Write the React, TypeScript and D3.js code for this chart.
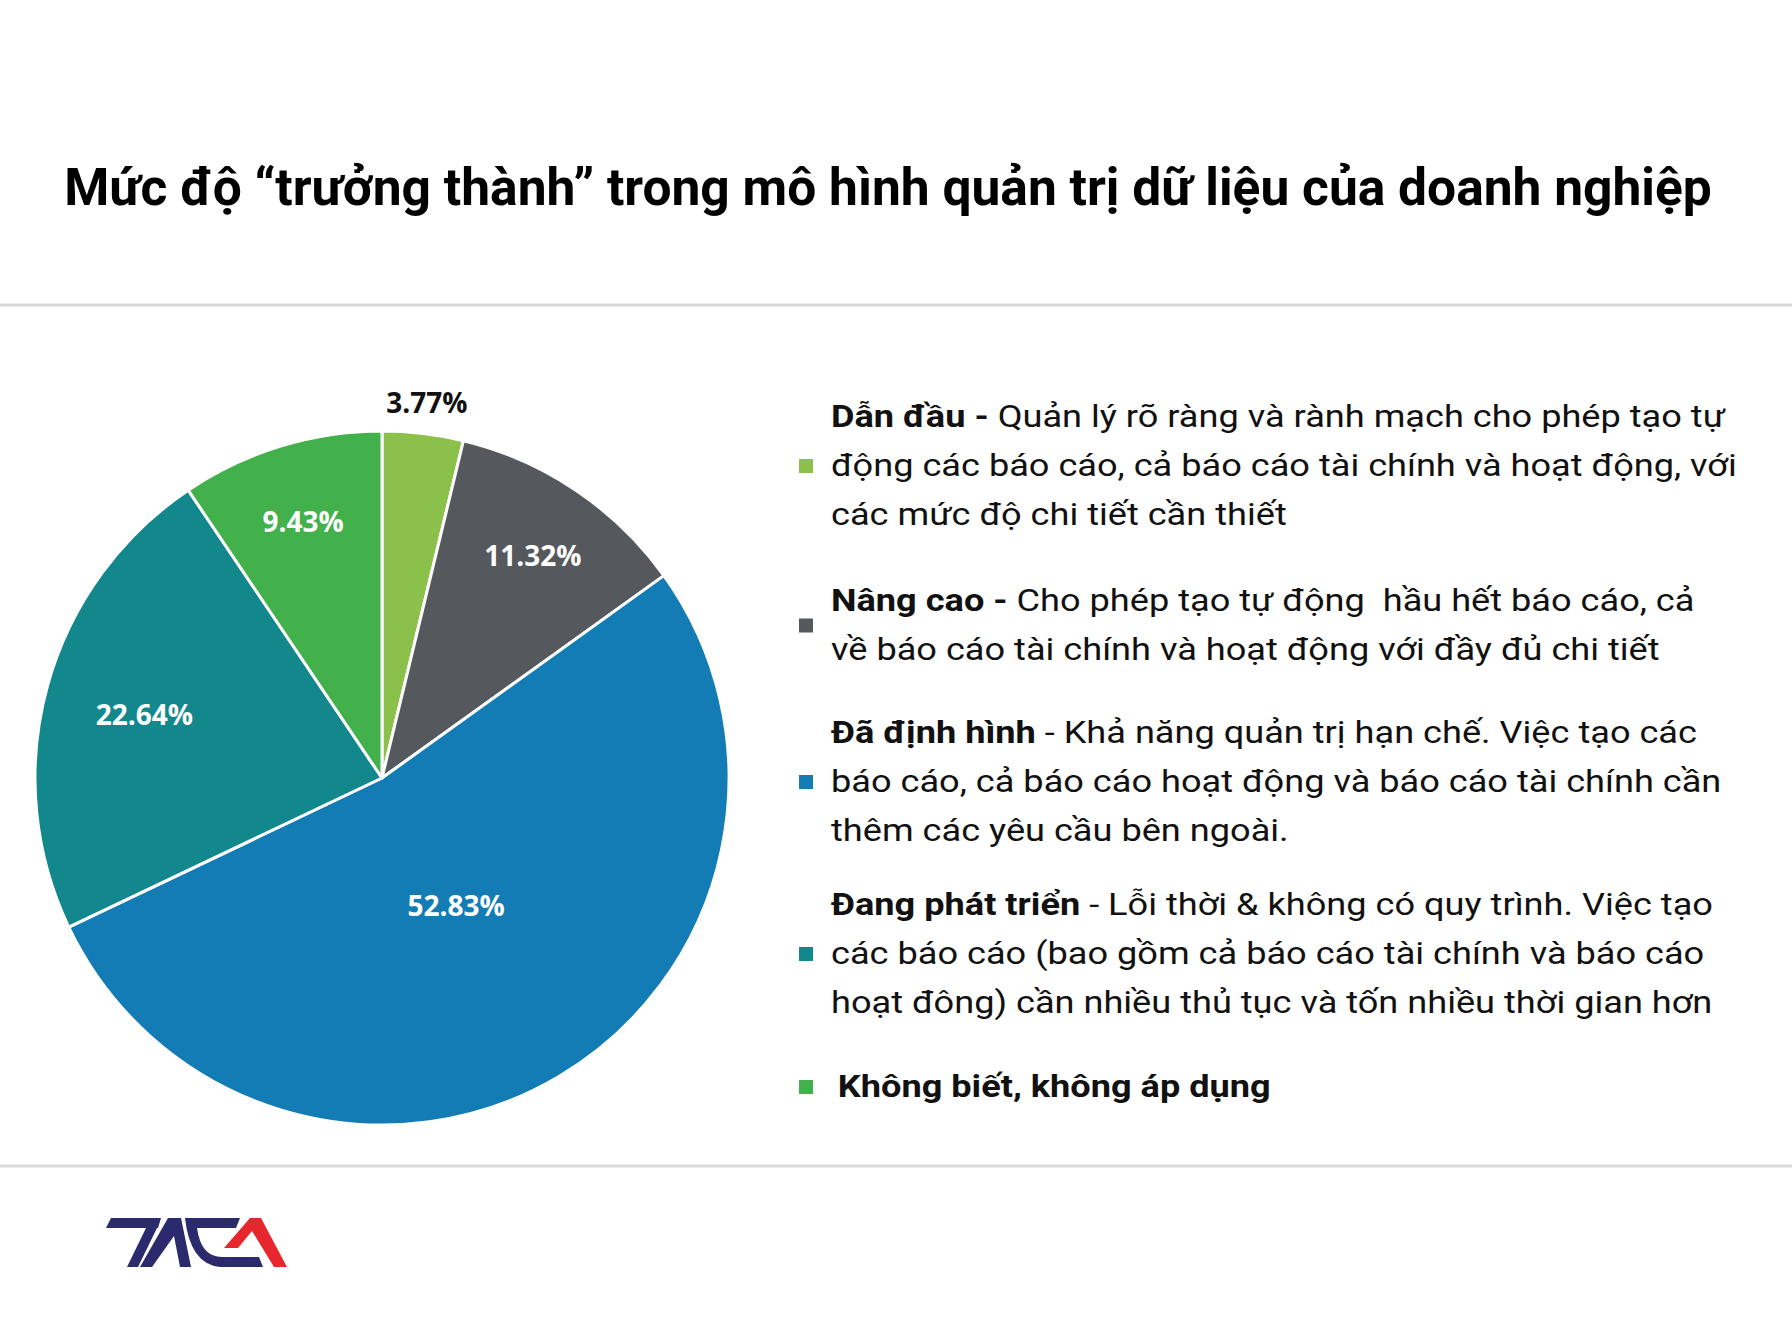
import React from 'react';
import * as d3 from 'd3';

// Slices clockwise from 12 o'clock
const levels = ['Dẫn đầu', 'Nâng cao', 'Đã định hình', 'Đang phát triển', 'Không biết, không áp dụng'];
const shares = [3.77, 11.32, 52.83, 22.64, 9.43];
const colors = ['#8bc04a', '#55585d', '#147cb4', '#12878c', '#42b04b'];

// legend text: bold head, then regular lines
const legendHeads = ['Dẫn đầu - ', 'Nâng cao - ', 'Đã định hình', 'Đang phát triển', 'Không biết, không áp dụng'];
const legendLines = [
  ['Quản lý rõ ràng và rành mạch cho phép tạo tự', 'động các báo cáo, cả báo cáo tài chính và hoạt động, với', 'các mức độ chi tiết cần thiết'],
  ['Cho phép tạo tự động  hầu hết báo cáo, cả', 'về báo cáo tài chính và hoạt động với đầy đủ chi tiết'],
  [' - Khả năng quản trị hạn chế. Việc tạo các', 'báo cáo, cả báo cáo hoạt động và báo cáo tài chính cần', 'thêm các yêu cầu bên ngoài.'],
  [' - Lỗi thời & không có quy trình. Việc tạo', 'các báo cáo (bao gồm cả báo cáo tài chính và báo cáo', 'hoạt đông) cần nhiều thủ tục và tốn nhiều thời gian hơn'],
  [''],
];

const TITLE = 'Mức độ “trưởng thành” trong mô hình quản trị dữ liệu của doanh nghiệp';

const W = 1792;
const H = 1344;
const cx = 382;
const cy = 778;
const R = 347;

// legend layout (first-line baselines of the separate text boxes)
const legendX = 831;
const legendFirstBaseline = [427, 611, 743, 915, 1097];
const lineH = 49;
const stretch = 1.13;

// Excel-like "best fit" label placement
const labelRadius = (v: number) => (v < 5 ? R + 33 : v > 50 ? R * 0.42 : v > 15 ? R * 0.71 : R * 0.778);

const App: React.FC = () => {
  const pie = d3.pie<number>().sort(null).value(d => d)(shares);
  const arc = d3.arc<d3.PieArcDatum<number>>().innerRadius(0).outerRadius(R);

  const navy = '#2b2a6c';
  const red = '#e8262d';

  return (
    <div style={{ position: 'absolute', left: 0, top: 0 }}>
      <svg width={W} height={H} style={{ display: 'block', background: '#fff' }}>
        <text x={888} y={205} textAnchor="middle" fontFamily="Roboto" fontWeight="bold" fontSize={51.5} fill="#000">
          {TITLE}
        </text>
        <rect x={0} y={303.5} width={W} height={3} fill="#d9d9d9" />
        <rect x={0} y={1164.5} width={W} height={3} fill="#d9d9d9" />

        <g transform={`translate(${cx},${cy})`}>
          {pie.map((d, i) => (
            <path key={levels[i]} d={arc(d) || ''} fill={colors[i]} stroke="#fff" strokeWidth={3} strokeLinejoin="round" />
          ))}
          {pie.map((d, i) => {
            const a = (d.startAngle + d.endAngle) / 2;
            const r = labelRadius(d.data);
            const x = Math.sin(a) * r;
            const y = -Math.cos(a) * r;
            return (
              <text
                key={'l' + i}
                x={x}
                y={y}
                dy="0.44em"
                textAnchor="middle"
                fontFamily="Open Sans"
                fontWeight="bold"
                fontSize={28}
                fill={d.data < 5 ? '#111' : '#fff'}
              >
                {d.data.toFixed(2) + '%'}
              </text>
            );
          })}
        </g>

        {levels.map((lv, i) => {
          const lines = legendLines[i];
          const y0 = legendFirstBaseline[i];
          const midY = y0 + ((lines.length - 1) * lineH) / 2 - 10;
          const isLast = i === levels.length - 1;
          return (
            <g key={'lg' + lv}>
              <rect x={799} y={midY - 7} width={14} height={14} fill={colors[i]} />
              <g transform={`translate(${legendX},0) scale(${stretch},1)`}>
                <text fontFamily="Roboto" fontSize={32} fill="#111" style={{ whiteSpace: 'pre' }}>
                  <tspan x={isLast ? 6 : 0} y={y0} fontWeight="bold">
                    {legendHeads[i]}
                  </tspan>
                  <tspan>{lines[0]}</tspan>
                  {lines.slice(1).map((ln, j) => (
                    <tspan key={j} x={0} y={y0 + (j + 1) * lineH}>
                      {ln}
                    </tspan>
                  ))}
                </text>
              </g>
            </g>
          );
        })}

        {/* TACA logo */}
        <g>
          <polygon points="111,1218 161,1218 158,1228 106,1228" fill={navy} />
          <polygon points="146,1228 157,1228 138,1267 127,1267" fill={navy} />
          <polygon points="140,1267 168,1218 181,1218 191,1267 180,1267 174,1236 152,1267" fill={navy} />
          <path d="M185,1218 L240,1218 L236,1228 L197,1228 Q201,1257 222,1257 L259,1257 L263,1267 L220,1267 Q190,1264 185,1218 Z" fill={navy} />
          <polygon points="224,1248 250,1218 261,1218 287,1267 274,1267 252,1231 238,1248" fill={red} />
        </g>
      </svg>
    </div>
  );
};

export default App;
